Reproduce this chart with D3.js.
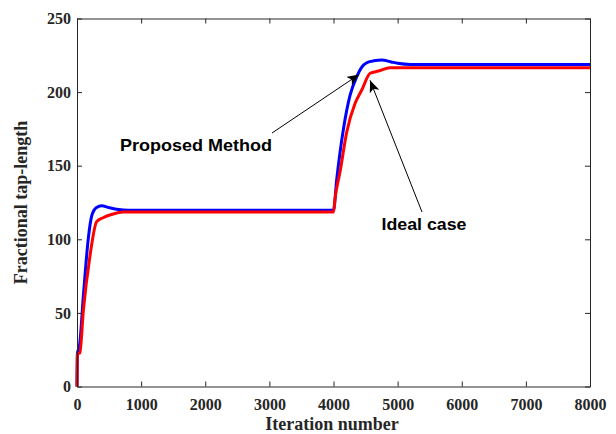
<!DOCTYPE html>
<html>
<head>
<meta charset="utf-8">
<script src="https://cdn.jsdelivr.net/npm/d3@7"></script>
<style>
  html, body { margin: 0; padding: 0; background: #fff; }
  svg { display: block; }
</style>
</head>
<body>
<svg id="chart" width="616" height="434"></svg>
<script>
// ---- data ----
const proposedIter = [0, 5, 40, 100, 180, 230, 300, 385, 500, 650, 800, 4000, 4051, 4155, 4259, 4363, 4441, 4550, 4753, 4900, 5000, 5200, 8000];
const proposedVal  = [0, 22, 28, 62, 102, 116, 121.5, 122.8, 121.5, 120.2, 119.8, 119.8, 141, 175, 198, 210.5, 217, 220.5, 221.8, 220.5, 219.6, 218.8, 218.8];
const idealIter = [0, 5, 45, 100, 200, 307, 400, 550, 722, 4000, 4024, 4103, 4207, 4337, 4441, 4571, 4701, 4883, 8000];
const idealVal  = [0, 22, 23, 52, 88, 112, 114.5, 117, 118.5, 118.5, 127.8, 146, 173, 192.4, 201.4, 212.8, 214.3, 216.6, 216.6];
const xTicks = [0, 1000, 2000, 3000, 4000, 5000, 6000, 7000, 8000];
const yTicks = [0, 50, 100, 150, 200, 250];
const xLabel = "Iteration number";
const yLabel = "Fractional tap-length";
const annotations = [
  { text: "Proposed Method", tipX: 4400, tipY: 212 },
  { text: "Ideal case", tipX: 4570, tipY: 208 }
];

// ---- layout ----
const svg = d3.select("#chart");
const L = 77, R = 590, T = 18.5, B = 386.5;
const x = d3.scaleLinear().domain([0, 8000]).range([L, R]);
const y = d3.scaleLinear().domain([0, 250]).range([B, T]);
const axisColor = "#262626";
const tickFont = "'Liberation Serif', 'Times New Roman', serif";

// plot lines
const line = d3.line().x(d => x(d[0])).y(d => y(d[1])).curve(d3.curveMonotoneX);
const blue = proposedIter.map((v, i) => [v, proposedVal[i]]);
const red = idealIter.map((v, i) => [v, idealVal[i]]);

svg.append("path").attr("d", line(blue)).attr("fill", "none")
  .attr("stroke", "#0000ff").attr("stroke-width", 3).attr("stroke-linejoin", "round");
svg.append("path").attr("d", line(red)).attr("fill", "none")
  .attr("stroke", "#ff0000").attr("stroke-width", 3).attr("stroke-linejoin", "round");

// axes
function styleAxis(g) {
  g.selectAll("path.domain").attr("stroke", axisColor).attr("stroke-width", 1);
  g.selectAll(".tick line").attr("stroke", axisColor).attr("stroke-width", 1);
  g.selectAll(".tick text").attr("fill", "#262626")
    .attr("font-family", tickFont).attr("font-weight", "bold").attr("font-size", "16px");
}
const xb = svg.append("g").attr("transform", `translate(0,${B})`)
  .call(d3.axisBottom(x).tickValues(xTicks).tickFormat(d3.format("d")).tickSizeInner(-5).tickSizeOuter(0).tickPadding(12));
styleAxis(xb);
const xt = svg.append("g").attr("transform", `translate(0,${T})`)
  .call(d3.axisTop(x).tickValues(xTicks).tickFormat("").tickSizeInner(-5).tickSizeOuter(0));
styleAxis(xt);
const yl = svg.append("g").attr("transform", `translate(${L},0)`)
  .call(d3.axisLeft(y).tickValues(yTicks).tickFormat(d3.format("d")).tickSizeInner(-5).tickSizeOuter(0).tickPadding(6));
styleAxis(yl);
const yr = svg.append("g").attr("transform", `translate(${R},0)`)
  .call(d3.axisRight(y).tickValues(yTicks).tickFormat("").tickSizeInner(-5).tickSizeOuter(0));
styleAxis(yr);

// axis labels
svg.append("text").attr("x", 332).attr("y", 430)
  .attr("text-anchor", "middle").attr("font-family", tickFont).attr("font-weight", "bold")
  .attr("font-size", "18px").attr("fill", "#262626").text(xLabel);
svg.append("text").attr("transform", `translate(27,${(T + B) / 2}) rotate(-90)`)
  .attr("text-anchor", "middle").attr("font-family", tickFont).attr("font-weight", "bold")
  .attr("font-size", "18px").attr("fill", "#262626").text(yLabel);

// annotations
const defs = svg.append("defs");
defs.append("marker").attr("id", "ah").attr("viewBox", "0 0 12 10")
  .attr("refX", 12).attr("refY", 5).attr("markerWidth", 12).attr("markerHeight", 10)
  .attr("markerUnits", "userSpaceOnUse").attr("orient", "auto")
  .append("path").attr("d", "M0,0 L12,5 L0,10 L3,5 Z").attr("fill", "#000");

const annFont = "'Liberation Sans', Arial, sans-serif";
// Proposed Method
svg.append("text").attr("x", 120).attr("y", 150.5).attr("font-family", annFont)
  .attr("font-weight", "bold").attr("font-size", "17px").attr("fill", "#000")
  .attr("textLength", 152).attr("lengthAdjust", "spacingAndGlyphs")
  .text(annotations[0].text);
svg.append("line").attr("x1", 272).attr("y1", 133).attr("x2", x(annotations[0].tipX)).attr("y2", y(annotations[0].tipY))
  .attr("stroke", "#000").attr("stroke-width", 1).attr("marker-end", "url(#ah)");
// Ideal case
svg.append("text").attr("x", 424).attr("y", 230).attr("text-anchor", "middle").attr("font-family", annFont)
  .attr("font-weight", "bold").attr("font-size", "17px").attr("fill", "#000")
  .attr("textLength", 85).attr("lengthAdjust", "spacingAndGlyphs")
  .text(annotations[1].text);
svg.append("line").attr("x1", 422).attr("y1", 212).attr("x2", x(annotations[1].tipX)).attr("y2", y(annotations[1].tipY))
  .attr("stroke", "#000").attr("stroke-width", 1).attr("marker-end", "url(#ah)");
</script>
</body>
</html>
